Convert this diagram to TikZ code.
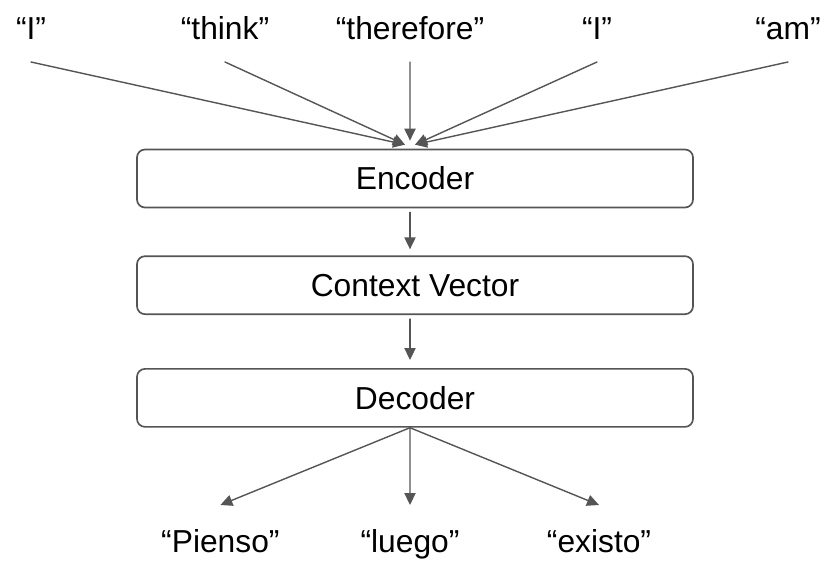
\documentclass[tikz,border=0pt]{standalone}
\usepackage{fontspec}
\setmainfont{Liberation Sans}
\usetikzlibrary{arrows.meta,positioning}
\definecolor{SeqGray}{HTML}{555555}
\definecolor{SeqInk}{HTML}{000000}

\tikzset{
  word/.style={font=\fontsize{22.6}{27}\selectfont,text=SeqInk,inner sep=0pt,anchor=base},
  stage/.style={draw=SeqGray,line width=1.2pt,rounded corners=2mm,minimum width=13.9cm,minimum height=1.45cm,font=\fontsize{22.6}{27}\selectfont,text=SeqInk},
  flow/.style={-{Triangle[length=3mm,width=2.8mm]},SeqGray,line width=1pt}
}

\begin{document}
\begin{tikzpicture}[line cap=round,line join=round]
  \useasboundingbox (0,0) rectangle (20.875,14.25);
  % input words
  \node[word] (in1) at (0.775,13.25) {“I”};
  \node[word] (in2) at (5.625,13.25) {“think”};
  \node[word] (in3) at (10.25,13.25) {“therefore”};
  \node[word] (in4) at (14.925,13.25) {“I”};
  \node[word] (in5) at (19.7,13.25) {“am”};
  % the three stages
  \node[stage] (enc) at (10.375,9.7875) {Encoder};
  \node[stage,below=1.175cm of enc] (ctx) {Context Vector};
  \node[stage,below=1.325cm of ctx] (dec) {Decoder};
  % output words
  \node[word] (out1) at (5.51,0.45) {“Pienso”};
  \node[word] (out2) at (10.25,0.45) {“luego”};
  \node[word] (out3) at (14.975,0.45) {“existo”};
  % line ends
  \coordinate[below=5.5mm of in1.base] (s1);
  \coordinate[below=5.5mm of in2.base] (s2);
  \coordinate[below=5.5mm of in3.base] (s3);
  \coordinate[below=5.5mm of in4.base] (s4);
  \coordinate[below=5.5mm of in5.base] (s5);
  \coordinate (hubL) at ([xshift=-2.5mm,yshift=1mm]enc.north);
  \coordinate (hubM) at ([xshift=-1.25mm,yshift=2mm]enc.north);
  \coordinate (hubR) at ([xshift=0mm,yshift=1mm]enc.north);
  \coordinate (fan) at ([xshift=-1.25mm]dec.south);
  \coordinate[above=11.75mm of out1.base] (t1);
  \coordinate[above=11.75mm of out2.base] (t2);
  \coordinate[above=11.75mm of out3.base] (t3);
  % connectors
  \draw[flow] (s1) -- (hubL);
  \draw[flow] (s2) -- (hubL);
  \draw[flow] (s3) -- (hubM);
  \draw[flow] (s4) -- (hubR);
  \draw[flow] (s5) -- (hubR);
  \draw[flow,shorten <=1mm,shorten >=1.5mm] ([xshift=-1.25mm]enc.south) -- ([xshift=-1.25mm]ctx.north);
  \draw[flow,shorten <=1mm,shorten >=2mm] ([xshift=-1.25mm]ctx.south) -- ([xshift=-1.25mm]dec.north);
  \draw[flow] (fan) -- (t1);
  \draw[flow] (fan) -- (t2);
  \draw[flow] (fan) -- (t3);
\end{tikzpicture}
\end{document}
